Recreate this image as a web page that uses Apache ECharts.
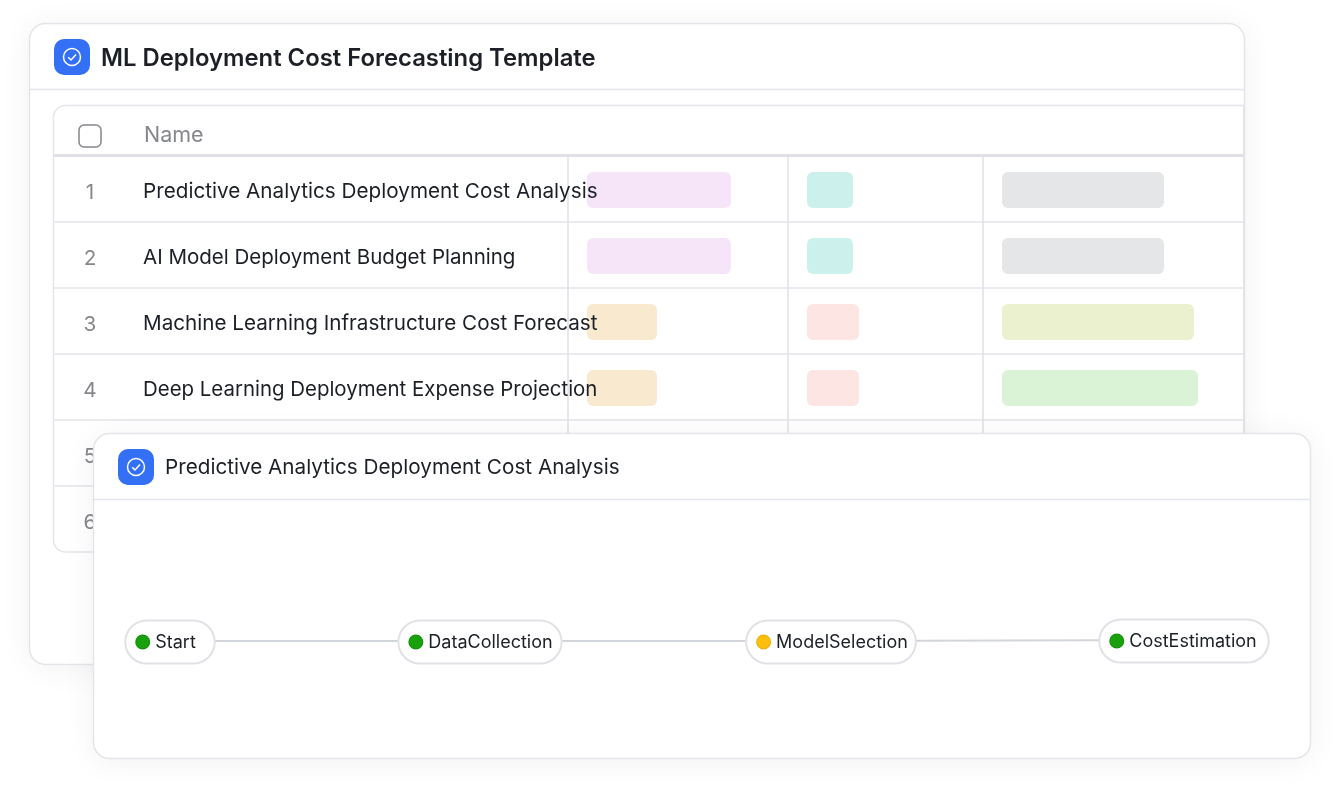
<!DOCTYPE html>
<html><head><meta charset="utf-8">
<style>html,body{margin:0;padding:0;background:#fff}#c{width:1338px;height:791px}</style>
<script src="https://cdn.jsdelivr.net/npm/echarts@6/dist/echarts.min.js"></script>
</head><body><div id="c"></div>
<script>
// ---- content ----
const boardTitle = 'ML Deployment Cost Forecasting Template';
const detailTitle = 'Predictive Analytics Deployment Cost Analysis';
const columnHeader = 'Name';
const rowNumbers = ['1', '2', '3', '4', '5', '6'];
const rowNames = [
  'Predictive Analytics Deployment Cost Analysis',
  'AI Model Deployment Budget Planning',
  'Machine Learning Infrastructure Cost Forecast',
  'Deep Learning Deployment Expense Projection'
];
const tagWidthsA = [144, 144, 70, 70];
const tagWidthsB = [46, 46, 52, 52];
const tagWidthsC = [162, 162, 192, 196];
const tagKindsA = ['pink', 'pink', 'orange', 'orange'];
const tagKindsB = ['teal', 'teal', 'red', 'red'];
const tagKindsC = ['grey', 'grey', 'lime', 'green'];
const flowNodes = ['Start', 'DataCollection', 'ModelSelection', 'CostEstimation'];
const flowStatus = ['done', 'done', 'active', 'done'];
const flowLinks = [[0, 1], [1, 2], [2, 3]];

// ---- layout & style ----
const FONT = 'Inter, "Noto Sans", sans-serif';
const INK = '#1c2026', MUTED = '#85878b', LINE = '#e3e5e9';
const TAG = { pink:'#f6e5f8', orange:'#f9e9cf', teal:'#ccf0ec', red:'#fde5e4', grey:'#e5e6e8', lime:'#ebf0cf', green:'#daf2d6' };
const DOT = { done:'#18a10a', active:'#fdbf0c' };
const DOT_EDGE = { done:'#168f0c', active:'#e9b10e' };
const ROW_H = 66, ROW_TOP = 157;
const rowY = i => ROW_TOP + ROW_H * i + 33;
const ROW_FONT = [20.7, 20.53, 20.65, 20.43];
const COL_X = [587, 807, 1002];
const NODE_POS = [[170, 641], [480, 641], [831, 641], [1184, 640]];
const NODE_PAD = [[10, 18], [10, 8], [10, 7], [10, 11]];

function icon(x, y, z) {
  const cx = x + 18, cy = y + 18;
  return [
    { type:'rect', z, shape:{x, y, width:36, height:36, r:10}, style:{fill:'#3370f5'} },
    { type:'circle', z:z+1, shape:{cx, cy, r:8.5}, style:{fill:'none', stroke:'#fff', lineWidth:1.5} },
    { type:'polyline', z:z+1, shape:{points:[[cx-3.8, cy+0.2],[cx-1, cy+3],[cx+4, cy-2.6]]}, style:{fill:'none', stroke:'#fff', lineWidth:1.5} }
  ];
}
function hline(x1, x2, y, z, w, c) {
  return { type:'line', z, shape:{x1, y1:y, x2, y2:y}, style:{stroke:c||LINE, lineWidth:w||1.5} };
}
function vline(x, y1, y2, z, w, c) {
  return { type:'line', z, shape:{x1:x, y1, x2:x, y2}, style:{stroke:c||LINE, lineWidth:w||1.5} };
}
function corner(cx, cy, start, end, z) {
  return { type:'arc', z, shape:{cx, cy, r:12, startAngle:start, endAngle:end, clockwise:true}, style:{fill:'none', stroke:LINE, lineWidth:1.5} };
}
const SHADOW = { shadowBlur:32, shadowColor:'rgba(20,24,40,0.06)', shadowOffsetY:3 };

const graphicEls = [
  { type:'rect', z:1, shape:{x:29.5, y:23.5, width:1215, height:641, r:16}, style:Object.assign({fill:'#fff', stroke:LINE, lineWidth:1.5}, SHADOW) },
  hline(30, 1244, 89.5, 1, 1.5),
  ...icon(54, 39, 1),
  hline(65.5, 1244, 105.5, 1, 1.5),
  hline(65.5, 1244, 552, 1, 1.5),
  vline(53.5, 117.5, 540, 1, 1.5),
  corner(65.5, 117.5, Math.PI, Math.PI * 1.5, 1),
  corner(65.5, 540, Math.PI * 0.5, Math.PI, 1),
  hline(54, 1244, 155.5, 1, 3, '#dfe1e5'),
  vline(1244, 105, 434, 1, 2, '#e2e4e8'),
  ...[222, 288, 354, 420, 486].map(y => hline(54, 1244, y, 1, 1.5)),
  ...[568, 788, 983].map(x => vline(x, 157, 434, 1, 1.5, '#e0e1e6')),
  { type:'rect', z:1, shape:{x:79, y:125, width:22, height:22, r:5}, style:{fill:'#fff', stroke:'#85878b', lineWidth:1.5} },
  { type:'rect', z:20, shape:{x:93.5, y:433.5, width:1217, height:325, r:16}, style:Object.assign({fill:'#fff', stroke:LINE, lineWidth:1.5}, SHADOW) },
  hline(94, 1310, 499.5, 20, 1.5),
  ...icon(118, 449, 20)
];

const tagCells = [];
[[tagWidthsA, tagKindsA], [tagWidthsB, tagKindsB], [tagWidthsC, tagKindsC]].forEach((pair, c) => {
  pair[0].forEach((w, r) => tagCells.push([COL_X[c], rowY(r), w, pair[1][r]]));
});

const option = {
  animation: false,
  backgroundColor: '#fff',
  textStyle: { fontFamily: FONT },
  title: [
    { text: boardTitle, left: 101, top: 45, z: 5, padding: 0, textStyle: { fontFamily: FONT, fontSize: 23.85, fontWeight: 600, color: INK, lineHeight: 28 } },
    { text: detailTitle, left: 165, top: 454, z: 25, padding: 0, textStyle: { fontFamily: FONT, fontSize: 20.7, fontWeight: 400, color: INK, lineHeight: 28 } }
  ],
  grid: { left: 0, right: 0, top: 0, bottom: 0, containLabel: false },
  xAxis: { type: 'value', min: 0, max: 1338, show: false },
  yAxis: { type: 'value', min: 0, max: 791, inverse: true, show: false },
  graphic: { elements: graphicEls },
  series: [
    {
      type: 'custom', coordinateSystem: 'cartesian2d', silent: true, z: 3, clip: false,
      data: tagCells.map(d => d.slice(0, 3)),
      renderItem(params, api) {
        const p = api.coord([api.value(0), api.value(1)]);
        const w = api.size([api.value(2), 0])[0];
        return { type: 'rect', shape: { x: p[0], y: p[1] - 18, width: w, height: 36, r: 6 }, style: { fill: TAG[tagCells[params.dataIndex][3]] } };
      }
    },
    {
      type: 'custom', coordinateSystem: 'cartesian2d', silent: true, z: 4, clip: false,
      data: rowNumbers.map((n, i) => [90, rowY(i)]),
      renderItem(params, api) {
        const p = api.coord([api.value(0), api.value(1)]);
        return { type: 'text', style: { x: p[0], y: p[1] + 3, text: rowNumbers[params.dataIndex], align: 'center', verticalAlign: 'middle', font: '400 20.7px ' + FONT, fill: MUTED } };
      }
    },
    {
      type: 'custom', coordinateSystem: 'cartesian2d', silent: true, z: 4, clip: false,
      data: rowNames.map((n, i) => [143, rowY(i)]),
      renderItem(params, api) {
        const p = api.coord([api.value(0), api.value(1)]);
        return { type: 'text', style: { x: p[0], y: p[1] + 2, text: rowNames[params.dataIndex], align: 'left', verticalAlign: 'middle', font: '400 ' + ROW_FONT[params.dataIndex] + 'px ' + FONT, fill: INK } };
      }
    },
    {
      type: 'custom', coordinateSystem: 'cartesian2d', silent: true, z: 4, clip: false,
      data: [[144, 136]],
      renderItem(params, api) {
        const p = api.coord([api.value(0), api.value(1)]);
        return { type: 'text', style: { x: p[0], y: p[1], text: columnHeader, align: 'left', verticalAlign: 'middle', font: '400 21.5px ' + FONT, fill: MUTED } };
      }
    },
    {
      type: 'graph', coordinateSystem: 'cartesian2d', layout: 'none', silent: true, z: 30,
      symbol: 'circle', symbolSize: 1, edgeSymbol: ['none', 'none'],
      lineStyle: { color: '#d2d5da', width: 2, opacity: 1, curveness: 0 },
      data: flowNodes.map((name, i) => ({
        name, value: NODE_POS[i],
        label: {
          show: true, position: 'inside', offset: [0, 1],
          formatter: `{${flowStatus[i]}|}{gap|}{t|${name}}`,
          backgroundColor: '#fff', borderColor: '#e0e2e6', borderWidth: 2, borderRadius: 22,
          padding: [10, NODE_PAD[i][1], 10, NODE_PAD[i][0]],
          rich: {
            done: { width: 13, height: 13, borderRadius: 7, backgroundColor: DOT.done, borderColor: DOT_EDGE.done, borderWidth: 1 },
            active: { width: 13, height: 13, borderRadius: 7, backgroundColor: DOT.active, borderColor: DOT_EDGE.active, borderWidth: 1 },
            gap: { width: 6, height: 13 },
            t: { fontFamily: FONT, fontSize: 18, color: INK, lineHeight: 21, padding: [1, 0, 0, 0] }
          }
        }
      })),
      links: flowLinks.map(l => ({ source: l[0], target: l[1] }))
    }
  ]
};
echarts.init(document.getElementById('c'), null, { renderer: 'canvas' }).setOption(option);
</script></body></html>
